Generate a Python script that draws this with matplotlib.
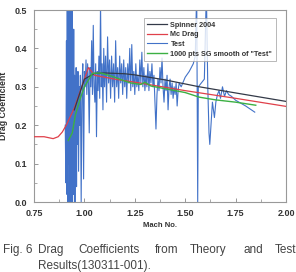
import matplotlib
matplotlib.use("Agg")
import matplotlib.pyplot as plt
from matplotlib.ticker import MultipleLocator, FormatStrFormatter

plt.rcParams['font.family'] = ['Liberation Sans', 'DejaVu Sans']

# ---- data ----
spinner_mach = [0.95, 1.00, 1.05, 1.10, 1.20, 1.25, 1.40, 1.57, 1.75, 2.00]
spinner_cd = [0.240, 0.320, 0.335, 0.336, 0.334, 0.331, 0.318, 0.300, 0.284, 0.262]

mcdrag_mach = [0.75, 0.80, 0.845, 0.87, 0.89, 0.91, 0.95, 0.98, 1.02, 1.05, 1.15,
               1.25, 1.50, 1.75, 2.00]
mcdrag_cd = [0.170, 0.170, 0.165, 0.170, 0.182, 0.200, 0.245, 0.290, 0.350, 0.330,
             0.320, 0.312, 0.290, 0.270, 0.249]

test_mach = [0.905, 0.908, 0.911, 0.913, 0.915, 0.917, 0.919, 0.921, 0.923, 0.925,
             0.927, 0.929, 0.931, 0.933, 0.935, 0.937, 0.939, 0.941, 0.943, 0.945,
             0.947, 0.949, 0.951, 0.953, 0.955, 0.957, 0.959, 0.961, 0.963, 0.965,
             0.968, 0.971, 0.974, 0.977, 0.980, 0.984, 0.988, 0.992, 0.996, 1.000,
             1.004, 1.008, 1.012, 1.016, 1.020, 1.024, 1.028, 1.032, 1.036, 1.040,
             1.044, 1.048, 1.052, 1.056, 1.060, 1.064, 1.068, 1.072, 1.076, 1.080,
             1.084, 1.088, 1.092, 1.096, 1.100, 1.105, 1.110, 1.115, 1.120, 1.125,
             1.130, 1.135, 1.140, 1.145, 1.150, 1.155, 1.160, 1.165, 1.170, 1.175,
             1.180, 1.185, 1.190, 1.195, 1.200, 1.205, 1.210, 1.215, 1.220, 1.225,
             1.230, 1.235, 1.240, 1.245, 1.250, 1.255, 1.260, 1.265, 1.270, 1.275,
             1.280, 1.285, 1.290, 1.295, 1.300, 1.305, 1.310, 1.315, 1.320, 1.325,
             1.330, 1.335, 1.340, 1.345, 1.350, 1.355, 1.360, 1.365, 1.370, 1.375,
             1.380, 1.385, 1.390, 1.395, 1.400, 1.405, 1.410, 1.415, 1.420, 1.425,
             1.430, 1.435, 1.440, 1.445, 1.450, 1.455, 1.460, 1.465, 1.470, 1.480,
             1.500, 1.520, 1.540, 1.550, 1.557, 1.562, 1.565, 1.580, 1.595, 1.605,
             1.612, 1.618, 1.622, 1.628, 1.635, 1.645, 1.652, 1.660, 1.668, 1.675,
             1.685, 1.695, 1.705, 1.715, 1.730, 1.750, 1.800, 1.845]
test_cd = [0.20, 0.05, 0.42, 0.02, 0.55, 0.00, 0.48, 0.10, 0.55, 0.00,
           0.35, 0.05, 0.55, 0.00, 0.40, 0.08, 0.55, 0.00, 0.30, 0.02,
           0.45, 0.05, 0.33, 0.00, 0.28, 0.10, 0.35, 0.04, 0.30, 0.15,
           0.34, 0.08, 0.30, 0.20, 0.33, 0.00, 0.30, 0.36, 0.06, 0.34,
           0.30, 0.37, 0.28, 0.36, 0.31, 0.18, 0.35, 0.30, 0.42, 0.28,
           0.46, 0.30, 0.26, 0.36, 0.17, 0.34, 0.29, 0.38, 0.27, 0.52,
           0.30, 0.36, 0.24, 0.40, 0.30, 0.38, 0.26, 0.43, 0.31, 0.37,
           0.27, 0.38, 0.30, 0.36, 0.26, 0.42, 0.30, 0.35, 0.27, 0.38,
           0.31, 0.36, 0.28, 0.37, 0.30, 0.35, 0.27, 0.36, 0.31, 0.40,
           0.29, 0.41, 0.30, 0.34, 0.28, 0.36, 0.30, 0.33, 0.29, 0.37,
           0.31, 0.39, 0.30, 0.35, 0.29, 0.33, 0.30, 0.36, 0.29, 0.34,
           0.31, 0.36, 0.30, 0.33, 0.26, 0.19, 0.28, 0.32, 0.29, 0.35,
           0.31, 0.375, 0.30, 0.26, 0.32, 0.29, 0.33, 0.24, 0.30, 0.32,
           0.28, 0.31, 0.27, 0.30, 0.28, 0.31, 0.25, 0.29, 0.31, 0.30,
           0.325, 0.34, 0.36, 0.38, 0.55, 0.00, 0.30, 0.31, 0.32, 0.55,
           0.30, 0.18, 0.15, 0.20, 0.26, 0.22, 0.26, 0.28, 0.29, 0.27,
           0.30, 0.275, 0.29, 0.28, 0.275, 0.265, 0.25, 0.234]

smooth_mach = [0.92, 0.94, 0.955, 0.98, 1.00, 1.04, 1.08, 1.12, 1.15, 1.20, 1.23,
               1.28, 1.30, 1.33, 1.40, 1.50, 1.57, 1.65, 1.75, 1.85]
smooth_cd = [0.160, 0.180, 0.226, 0.270, 0.300, 0.335, 0.336, 0.330, 0.325, 0.315,
             0.310, 0.306, 0.312, 0.302, 0.295, 0.285, 0.273, 0.266, 0.260, 0.252]

x_ticks = [0.75, 1.00, 1.25, 1.50, 1.75, 2.00]
y_ticks = [0.0, 0.1, 0.2, 0.3, 0.4, 0.5]

# ---- figure ----
fig = plt.figure(figsize=(2.96, 2.72), dpi=100)
ax = fig.add_axes([34/296, 70/272, 252/296, 192/272])

ax.plot(test_mach, test_cd, color='#4272c8', lw=0.8, label='Test', zorder=2)
ax.plot(mcdrag_mach, mcdrag_cd, color='#e0404a', lw=0.9, label='Mc Drag', zorder=3)
ax.plot(spinner_mach, spinner_cd, color='#333a48', lw=0.9, label='Spinner 2004', zorder=3)
ax.plot(smooth_mach, smooth_cd, color='#3cb043', lw=1.0,
        label='1000 pts SG smooth of "Test"', zorder=4)

ax.set_xlim(0.75, 2.0)
ax.set_ylim(0.0, 0.5)
ax.set_xticks(x_ticks)
ax.set_yticks(y_ticks)
ax.xaxis.set_minor_locator(MultipleLocator(0.125))
ax.yaxis.set_minor_locator(MultipleLocator(0.05))
ax.xaxis.set_major_formatter(FormatStrFormatter('%.2f'))
ax.yaxis.set_major_formatter(FormatStrFormatter('%.1f'))
ax.tick_params(which='both', direction='in', color='#888888', top=False, right=False)
ax.tick_params(which='major', length=3, width=0.6, labelsize=6.5, pad=5, labelcolor='#333333')
ax.tick_params(which='minor', length=2, width=0.5)
for lab in ax.get_xticklabels() + ax.get_yticklabels():
    lab.set_fontweight('bold')
for sp in ax.spines.values():
    sp.set_color('#999999')
    sp.set_linewidth(0.8)

ax.set_xlabel('Mach No.', fontsize=5.5, fontweight='bold', color='#333333', labelpad=3)
ax.set_ylabel('Drag Coefficient', fontsize=6.3, fontweight='bold', color='#333333')
ax.yaxis.set_label_coords(-26/252, 0.5)

handles, labels = ax.get_legend_handles_labels()
order = [2, 1, 0, 3]
leg = ax.legend([handles[i] for i in order], [labels[i] for i in order],
                loc='upper right', bbox_to_anchor=(0.965, 0.965),
                prop={'weight': 'bold', 'size': 5.2},
                frameon=True, fancybox=False, edgecolor='#999999',
                handlelength=2.8, handletextpad=0.4, labelspacing=0.35,
                borderpad=0.5, borderaxespad=0.2)
leg.get_frame().set_linewidth(0.6)
for t in leg.get_texts():
    t.set_color('#333333')

# caption (justified first line)
cap_words = ['Fig. 6', 'Drag', 'Coefficients', 'from', 'Theory', 'and', 'Test']
cap_x = [3, 38, 78, 155, 190, 244, 275]
for w, x in zip(cap_words, cap_x):
    fig.text(x/296, 1 - 253/272, w, fontsize=8.5, color='#444444', ha='left', va='baseline')
fig.text(38/296, 1 - 269/272, 'Results(130311-001).', fontsize=8.5, color='#444444',
         ha='left', va='baseline')

fig.savefig('out.png', dpi=100)
